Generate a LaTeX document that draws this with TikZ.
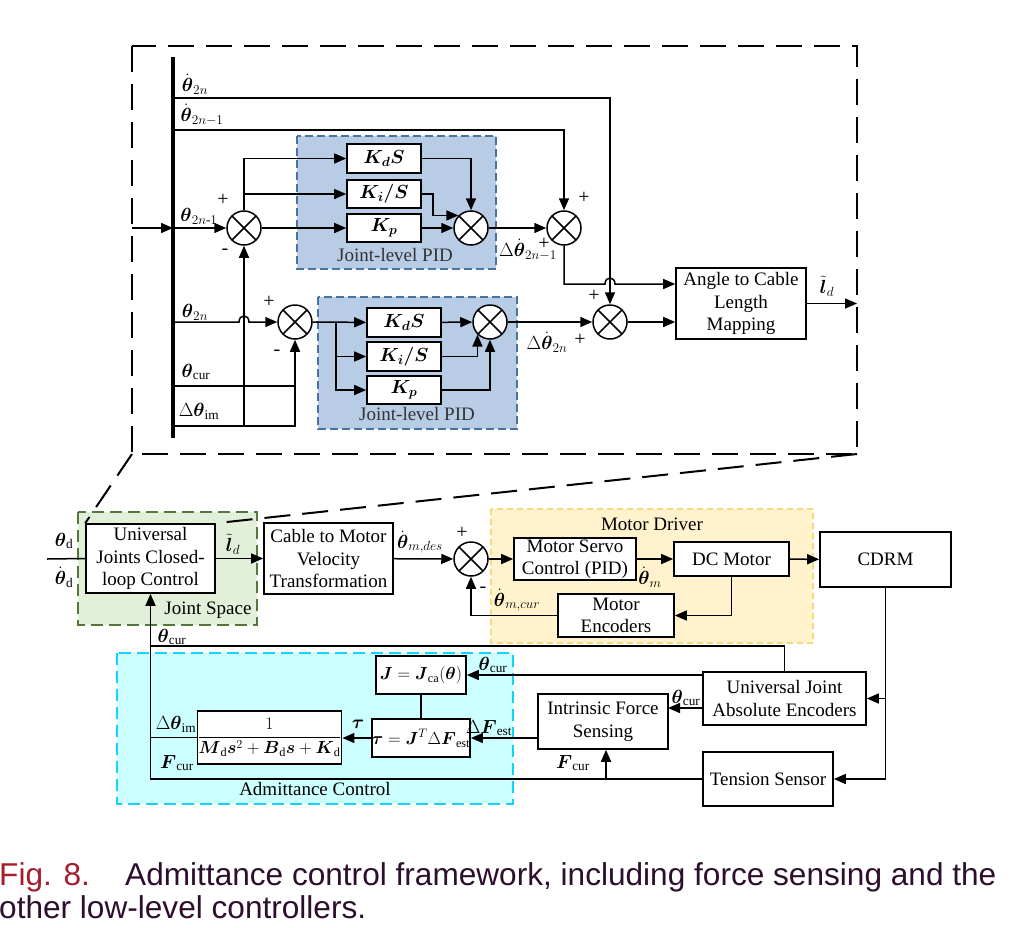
\RequirePackage{fix-cm}
\documentclass[tikz,border=0pt]{standalone}
\usepackage{amsmath}
\usepackage{fontspec}
\setmainfont{Liberation Serif}
\newfontfamily\capfont{Liberation Sans}
\usepackage{tikz}
\usetikzlibrary{arrows.meta,positioning}
\usepackage{xcolor}
\definecolor{pidfill}{RGB}{184,204,230}
\definecolor{piddraw}{RGB}{70,115,160}
\definecolor{jsfill}{RGB}{226,239,217}
\definecolor{jsdraw}{RGB}{84,120,60}
\definecolor{mdfill}{RGB}{255,242,204}
\definecolor{mddraw}{RGB}{250,215,120}
\definecolor{acfill}{RGB}{204,255,255}
\definecolor{acdraw}{RGB}{20,210,250}
\definecolor{capred}{RGB}{165,30,45}
\definecolor{capdark}{RGB}{45,15,45}
\newcommand{\boxfont}{\fontsize{19}{22.5}\selectfont}
\newcommand{\mathboxfont}{\fontsize{17.5}{20}\selectfont}
\newcommand{\signfont}{\fontsize{20}{20}\selectfont}
\newcommand{\capsize}{\capfont\fontsize{31.6}{36}\selectfont}
\tikzstyle{block} = [rectangle, draw, line width=1.6pt, fill=white, align=center, inner sep=0pt, font=\boxfont]
\tikzstyle{junction} = [circle, draw, line width=1.5pt, minimum size=34pt, inner sep=0pt, fill=white, path picture={\draw[line width=1.5pt] (path picture bounding box.south west) -- (path picture bounding box.north east) (path picture bounding box.north west) -- (path picture bounding box.south east);}]
\tikzstyle{arrow} = [line width=1.5pt, -{Triangle[length=12pt,width=10pt]}]
\tikzstyle{wire} = [line width=1.5pt]
\tikzstyle{lbl} = [inner sep=0pt, font=\boxfont]
\tikzstyle{signlbl} = [inner sep=0pt, font=\signfont]
\tikzstyle{region} = [line width=1.5pt, dash pattern=on 9pt off 5pt]
\tikzstyle{zoomframe} = [line width=2pt, dash pattern=on 26pt off 12pt]
\tikzstyle{caption} = [anchor=base west, inner sep=0pt, font=\capsize]

\begin{document}
\begin{tikzpicture}[x=1pt, y=-1pt]
\useasboundingbox (0,0) rectangle (1012,927);
\fill[white] (0,0) rectangle (1012,927);

% Zoomed-in joint controller
\draw[zoomframe] (132,46) rectangle (857,454);
\draw[region, draw=piddraw, fill=pidfill, dash pattern=on 8pt off 4pt] (297,136) rectangle (496,269);
\draw[region, draw=piddraw, fill=pidfill, dash pattern=on 8pt off 4pt] (318,297) rectangle (517,429);
\node (pidlbl1) [lbl, text=black!80] at (395,255) {Joint-level PID};
\node (pidlbl2) [lbl, text=black!80] at (417,414) {Joint-level PID};

\coordinate (bustop) at (173,57);
\coordinate (busbot) at (173,438);
\coordinate (busA) at (173,98);
\coordinate (busB) at (173,130);
\coordinate (busC) at (173,228);
\coordinate (busD) at (173,322);
\coordinate (busE) at (173,386);
\coordinate (busF) at (173,426);
\coordinate (inL) at (132,228);
\draw[line width=4pt] (bustop) -- (busbot);

\node (s1) [junction] at (244,228) {};
\node (s2) [junction] at (295,322) {};
\node (s3) [junction] at (471,228) {};
\node (s4) [junction] at (564,228) {};
\node (s5) [junction] at (490,322) {};
\node (s6) [junction] at (610,322) {};

\node (kd1) [block, minimum width=74pt, minimum height=29pt] at (384,158.5) {$\boldsymbol{K_{d}S}$};
\node (ki1) [block, minimum width=74pt, minimum height=28pt] at (384,194) {$\boldsymbol{K_{i}/S}$};
\node (kp1) [block, minimum width=74pt, minimum height=28pt] at (384,228) {$\boldsymbol{K_{p}}$};
\node (kd2) [block, minimum width=74pt, minimum height=29pt] at (404,322.5) {$\boldsymbol{K_{d}S}$};
\node (ki2) [block, minimum width=74pt, minimum height=29pt] at (404,356.5) {$\boldsymbol{K_{i}/S}$};
\node (kp2) [block, minimum width=74pt, minimum height=28pt] at (404,390) {$\boldsymbol{K_{p}}$};
\node (angle) [block, minimum width=130pt, minimum height=71pt] at (741,303.5) {Angle to Cable\\Length\\Mapping};

% bus signals
\draw[arrow] (inL) -- (busC);
\draw[arrow] (busA) -| (s6.north);
\draw[arrow] (busB) -| (s4.north);
\draw[arrow] (busC) -- (s1);
\draw[arrow] (busD) -- (239,322) .. controls +(0,-8) and +(0,-8) .. (249,322) -- (s2);
\draw[wire] (busE) -- (s2.south |- busE);
\draw[arrow] (busF) -| (s2.south);
\draw[arrow] (s1.south |- busF) -- (s1.south);

% upper PID
\draw[arrow] (s1.north) |- (kd1.west);
\draw[arrow] (s1.north |- ki1.west) -- (ki1.west);
\draw[arrow] (s1) -- (kp1);
\draw[arrow] (kd1.east) -| (s3.north);
\draw[arrow] (ki1.east) -- ++(11,0) |- (s3.135);
\draw[arrow] (kp1) -- (s3);
\draw[arrow] (s3) -- (s4);
\coordinate (j4) at (564,284);
\draw[arrow] (s4.south) -- (j4) -- (605,284) .. controls +(0,-8) and +(0,-8) .. (615,284) -- (angle.west |- j4);

% lower PID
\coordinate (br2) at (336,322);
\draw[arrow] (s2) -- (kd2);
\draw[arrow] (br2) |- (ki2.west);
\draw[arrow] (br2) |- (kp2.west);
\draw[arrow] (kd2) -- (s5);
\draw[arrow] (ki2.east) -| (s5.225);
\draw[arrow] (kp2.east) -| (s5.south);
\draw[arrow] (s5) -- (s6);
\draw[arrow] (s6.east) -- (angle.west |- s6.east);
\coordinate (outR) at (857,303.5);
\draw[arrow] (angle.east) -- (outR);

% labels of the zoomed part
\node (lb1) [lbl] at (195,84) {$\dot{\boldsymbol{\theta}}_{2n}$};
\node (lb2) [lbl] at (202,115) {$\dot{\boldsymbol{\theta}}_{2n-1}$};
\node (lb3) [lbl] at (199,216) {$\boldsymbol{\theta}_{2n\text{-}1}$};
\node (lb4) [lbl] at (195,312) {$\boldsymbol{\theta}_{2n}$};
\node (lb5) [lbl] at (196,372) {$\boldsymbol{\theta}_{\mathrm{cur}}$};
\node (lb6) [lbl] at (199,411) {$\Delta\boldsymbol{\theta}_{\mathrm{im}}$};
\node (lb7) [lbl] at (528,250) {$\Delta\dot{\boldsymbol{\theta}}_{2n-1}$};
\node (lb8) [lbl] at (547,342) {$\Delta\dot{\boldsymbol{\theta}}_{2n}$};
\node (lb9) [lbl] at (827,286) {$\tilde{\boldsymbol{l}}_{d}$};
\node (p1) [signlbl] at (223,200) {+};
\node (m1) [signlbl] at (225,252) {-};
\node (p2) [signlbl] at (269,302) {+};
\node (m2) [signlbl] at (277,353) {-};
\node (p3) [signlbl] at (584,198) {+};
\node (p4) [signlbl] at (544,244) {+};
\node (p5) [signlbl] at (594,296) {+};
\node (p6) [signlbl] at (580,340) {+};

% Low-level loop
\draw[region, draw=jsdraw, fill=jsfill, dash pattern=on 12pt off 6pt] (78,512) rectangle (257,625);
\draw[region, draw=mddraw, fill=mdfill, dash pattern=on 6pt off 4pt] (491,509) rectangle (813,643);
\draw[region, draw=acdraw, fill=acfill, dash pattern=on 12pt off 6pt] (117,653) rectangle (513,804);
\node (jslbl) [lbl] at (208,610) {Joint Space};
\node (mdlbl) [lbl] at (652,524) {Motor Driver};
\node (aclbl) [lbl] at (315,789) {Admittance Control};

\node (univ) [block, minimum width=129pt, minimum height=69pt] at (150.5,558.5) {Universal\\Joints Closed-\\loop Control};
\node (cable) [block, minimum width=129pt, minimum height=71pt] at (328.5,558.5) {Cable to Motor\\Velocity\\Transformation};
\node (s7) [junction] at (471,559) {};
\node (servo) [block, minimum width=122pt, minimum height=42pt] at (575,559) {Motor Servo\\Control (PID)};
\node (dcm) [block, minimum width=115pt, minimum height=34pt] at (731.5,559) {DC Motor};
\node (cdrm) [block, minimum width=131pt, minimum height=55pt] at (885.5,559.5) {CDRM};
\node (menc) [block, minimum width=116pt, minimum height=43pt] at (616,615.5) {Motor\\Encoders};
\node (ujae) [block, minimum width=163pt, minimum height=53pt] at (784.5,698.5) {Universal Joint\\Absolute Encoders};
\node (ifs) [block, minimum width=130pt, minimum height=55pt] at (603,721.5) {Intrinsic Force\\Sensing};
\node (tens) [block, minimum width=130pt, minimum height=54pt] at (768,779) {Tension Sensor};
\node (jbox) [block, minimum width=90pt, minimum height=38pt, font=\mathboxfont] at (421,675) {$\boldsymbol{J}=\boldsymbol{J}_{\mathrm{ca}}(\boldsymbol{\theta})$};
\node (taubox) [block, minimum width=90pt, minimum height=38pt, font=\mathboxfont] at (421,738) {$\boldsymbol{\tau}=\boldsymbol{J}^{T}\Delta\boldsymbol{F}_{\mathrm{est}}$};
\node (adm) [block, minimum width=131pt, minimum height=53pt, font=\mathboxfont] at (269.5,737.5) {$\dfrac{1}{\boldsymbol{M}_{\mathrm{d}}\boldsymbol{s}^{2}+\boldsymbol{B}_{\mathrm{d}}\boldsymbol{s}+\boldsymbol{K}_{\mathrm{d}}}$};

% zoom lines
\coordinate (zl) at (132,454);
\coordinate (zr) at (857,454);
\draw[zoomframe] (zl) -- (univ.north west);
\draw[zoomframe] (zr) -- (univ.north east);

% forward path
\coordinate (inD) at (47,559);
\draw[wire] (inD) -- (univ.west);
\draw[arrow] (univ) -- (cable);
\draw[arrow] (cable) -- (s7);
\draw[arrow] (s7) -- (servo);
\draw[arrow] (servo) -- (dcm);
\draw[arrow] (dcm) -- (cdrm);
\draw[arrow] (dcm.south) |- (menc.east);
\draw[arrow] (menc.west) -| (s7.south);

% sensors and feedback
\coordinate (fbL) at (150,646);
\coordinate (ifsin) at (668,708);
\coordinate (fcb) at (606,779);
\draw[arrow] (cdrm.south) |- (tens.east);
\draw[arrow] (cdrm.south |- ujae.east) -- (ujae.east);
\draw[arrow] (ujae.north) |- (univ.south |- fbL) -- (univ.south);
\draw[wire] (tens.west) -- (univ.south |- tens.west) -- (univ.south |- fbL);
\draw[wire] (adm.west) -- (univ.south |- adm.west);
\draw[arrow] (taubox.west) -- (adm.east |- taubox.west);
\draw[wire] (jbox) -- (taubox);
\draw[arrow] (ujae.west |- jbox.east) -- (jbox.east);
\draw[arrow] (ujae.west |- ifsin) -- (ifsin);
\draw[arrow] (ifs.west |- taubox.east) -- (taubox.east);
\draw[arrow] (fcb) -- (fcb |- ifs.south);

% labels of the low-level loop
\node (lb10) [lbl] at (64,541) {$\boldsymbol{\theta}_{\mathrm{d}}$};
\node (lb11) [lbl] at (64,577) {$\dot{\boldsymbol{\theta}}_{\mathrm{d}}$};
\node (lb12) [lbl] at (233,544) {$\tilde{\boldsymbol{l}}_{d}$};
\node (lb13) [lbl] at (420,542) {$\dot{\boldsymbol{\theta}}_{m,des}$};
\node (p7) [signlbl] at (462,533) {+};
\node (m7) [signlbl] at (483,590) {-};
\node (lb14) [lbl] at (517,600) {$\dot{\boldsymbol{\theta}}_{m,cur}$};
\node (lb15) [lbl] at (650,577) {$\dot{\boldsymbol{\theta}}_{m}$};
\node (lb16) [lbl] at (172,637) {$\boldsymbol{\theta}_{\mathrm{cur}}$};
\node (lb17) [lbl] at (176,724) {$\Delta\boldsymbol{\theta}_{\mathrm{im}}$};
\node (lb18) [lbl] at (177,763) {$\boldsymbol{F}_{\mathrm{cur}}$};
\node (lb19) [lbl] at (358,724) {$\boldsymbol{\tau}$};
\node (lb20) [lbl] at (493,665) {$\boldsymbol{\theta}_{\mathrm{cur}}$};
\node (lb21) [lbl] at (489,728) {$\Delta\boldsymbol{F}_{\mathrm{est}}$};
\node (lb22) [lbl] at (686,698) {$\boldsymbol{\theta}_{\mathrm{cur}}$};
\node (lb23) [lbl] at (573,763) {$\boldsymbol{F}_{\mathrm{cur}}$};

% caption
\node (figno) [caption, text=capred] at (-1,885) {Fig. 8.};
\node (cap1) [caption, text=capdark] at (125,885) {Admittance control framework, including force sensing and the};
\node (cap2) [caption, text=capdark] at (-1,918) {other low-level controllers.};
\end{tikzpicture}
\end{document}
